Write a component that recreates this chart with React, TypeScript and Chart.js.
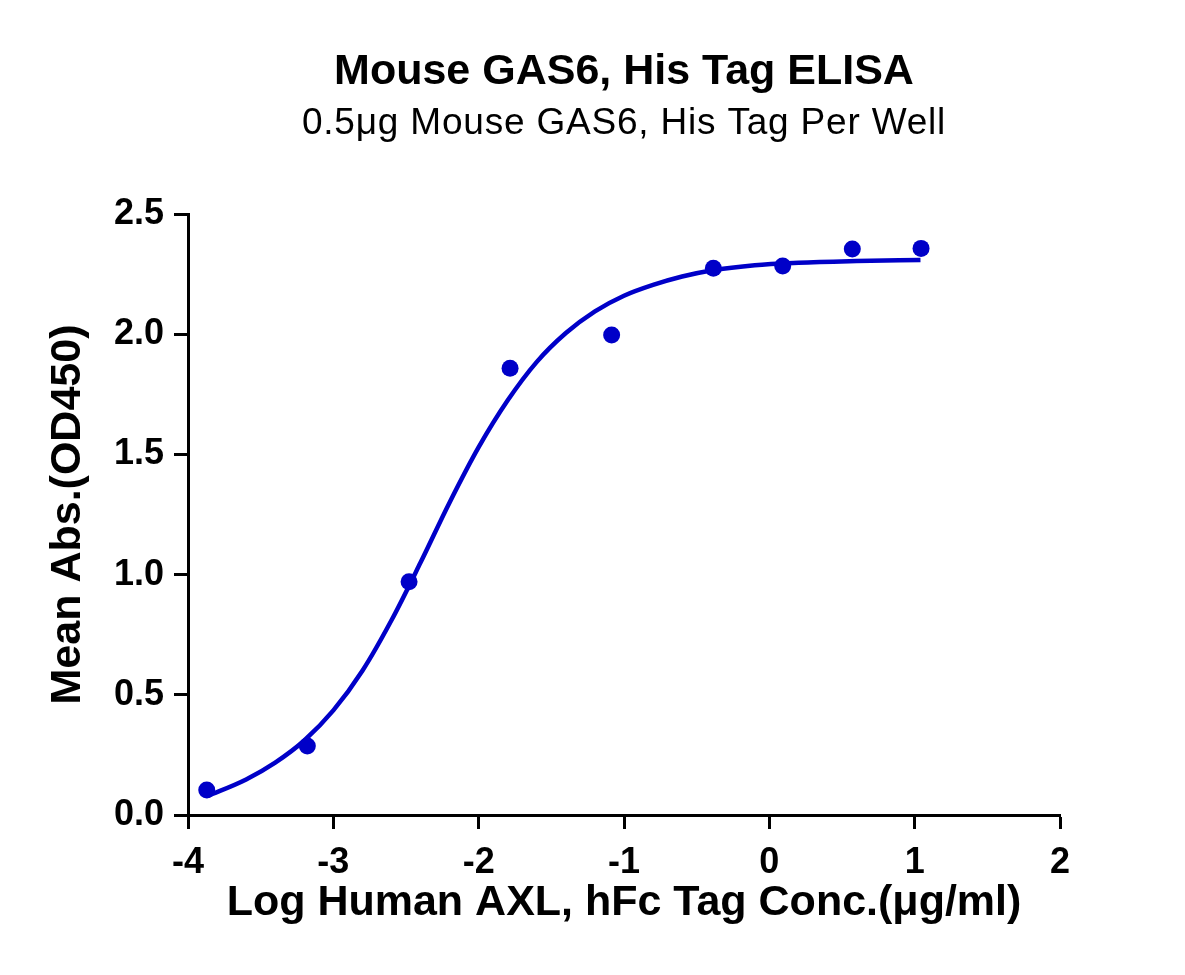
import { useEffect, useRef } from 'react';
import { Chart, registerables } from 'chart.js';

Chart.register(...registerables);

const FONT = "'Liberation Sans', Arial, Helvetica, sans-serif";
const BLUE = '#0000C8';

const TITLE = 'Mouse GAS6, His Tag ELISA';
const SUBTITLE = '0.5μg Mouse GAS6, His Tag Per Well';
const X_TITLE = 'Log Human AXL, hFc Tag Conc.(μg/ml)';
const Y_TITLE = 'Mean Abs.(OD450)';

// measured points (log conc, OD450)
const logConc = [-3.871, -3.179, -2.479, -1.784, -1.085, -0.385, 0.092, 0.571, 1.044];
const meanAbs = [0.104, 0.287, 0.970, 1.858, 1.997, 2.274, 2.284, 2.354, 2.357];

// fitted curve
const fitX = [-3.87, -3.6, -3.4, -3.2, -3.0, -2.8, -2.6, -2.4, -2.2, -2.0, -1.8, -1.6, -1.4, -1.2, -1.0, -0.8, -0.6, -0.4, -0.1, 0.2, 0.6, 1.04];
const fitY = [0.078, 0.148, 0.218, 0.31, 0.435, 0.6, 0.81, 1.05, 1.3, 1.53, 1.725, 1.885, 2.005, 2.095, 2.16, 2.205, 2.24, 2.265, 2.287, 2.297, 2.304, 2.309];

const X_TICKS = [-4, -3, -2, -1, 0, 1, 2];
const Y_TICKS = [0, 0.5, 1, 1.5, 2, 2.5];

const titlePlugin = {
  id: 'titles',
  afterDraw(chart: Chart) {
    const { ctx, chartArea } = chart;
    const cx = (chartArea.left + chartArea.right) / 2;
    ctx.save();
    ctx.fillStyle = '#000';
    ctx.textAlign = 'center';
    ctx.textBaseline = 'alphabetic';
    ctx.font = `bold 43px ${FONT}`;
    ctx.fillText(TITLE, cx, 84);
    ctx.font = `37px ${FONT}`;
    (ctx as any).letterSpacing = '0.8px';
    ctx.fillText(SUBTITLE, cx, 134);
    ctx.restore();
  },
};

export default function App(): JSX.Element {
  const canvasRef = useRef<HTMLCanvasElement>(null);
  const chartRef = useRef<Chart | null>(null);

  useEffect(() => {
    document.body.style.margin = '0';
    if (!canvasRef.current) return;
    if (chartRef.current) chartRef.current.destroy();

    const tickFont = { family: FONT, size: 36, weight: 'bold' as const };
    const titleFont = { family: FONT, size: 43, weight: 'bold' as const };

    chartRef.current = new Chart(canvasRef.current, {
      type: 'scatter',
      data: {
        datasets: [
          {
            label: 'Fit',
            data: fitX.map((x, i) => ({ x, y: fitY[i] })),
            showLine: true,
            borderColor: BLUE,
            borderWidth: 4.5,
            pointRadius: 0,
            cubicInterpolationMode: 'monotone',
            order: 2,
          },
          {
            label: 'Mean Abs.',
            data: logConc.map((x, i) => ({ x, y: meanAbs[i] })),
            backgroundColor: BLUE,
            borderColor: BLUE,
            pointRadius: 8.5,
            borderWidth: 0,
            order: 1,
          },
        ],
      },
      options: {
        animation: false,
        responsive: true,
        maintainAspectRatio: false,
        layout: { padding: { top: 214, right: 125, left: 0, bottom: 0 } },
        plugins: {
          legend: { display: false },
          tooltip: { enabled: false },
        },
        scales: {
          x: {
            type: 'linear',
            min: -4,
            max: 2,
            afterFit: s => { s.height = 160; },
            afterBuildTicks: s => { s.ticks = X_TICKS.map(v => ({ value: v })); },
            ticks: { color: '#000', font: tickFont, padding: 12, callback: v => String(v) },
            grid: { drawOnChartArea: false, drawTicks: true, tickLength: 14, tickWidth: 3, tickColor: '#000' },
            border: { display: true, width: 3, color: '#000' },
            title: { display: true, text: X_TITLE, color: '#000', font: titleFont, padding: { top: 0, bottom: 46 } },
          },
          y: {
            type: 'linear',
            min: 0,
            max: 2.5,
            afterFit: s => { s.width = 188; },
            afterBuildTicks: s => { s.ticks = Y_TICKS.map(v => ({ value: v })); },
            ticks: { color: '#000', font: tickFont, padding: 10, callback: v => Number(v).toFixed(1) },
            grid: { drawOnChartArea: false, drawTicks: true, tickLength: 14, tickWidth: 3, tickColor: '#000' },
            border: { display: true, width: 3, color: '#000' },
            title: { display: true, text: Y_TITLE, color: '#000', font: titleFont, padding: { top: 42, bottom: 0 } },
          },
        },
      },
      plugins: [titlePlugin],
    });

    return () => { chartRef.current?.destroy(); chartRef.current = null; };
  }, []);

  return (
    <div style={{ position: 'relative', width: '1185px', height: '975px', background: '#fff' }}>
      <canvas ref={canvasRef} role="img" aria-label={`${TITLE}: ${Y_TITLE} vs ${X_TITLE}`} />
    </div>
  );
}
